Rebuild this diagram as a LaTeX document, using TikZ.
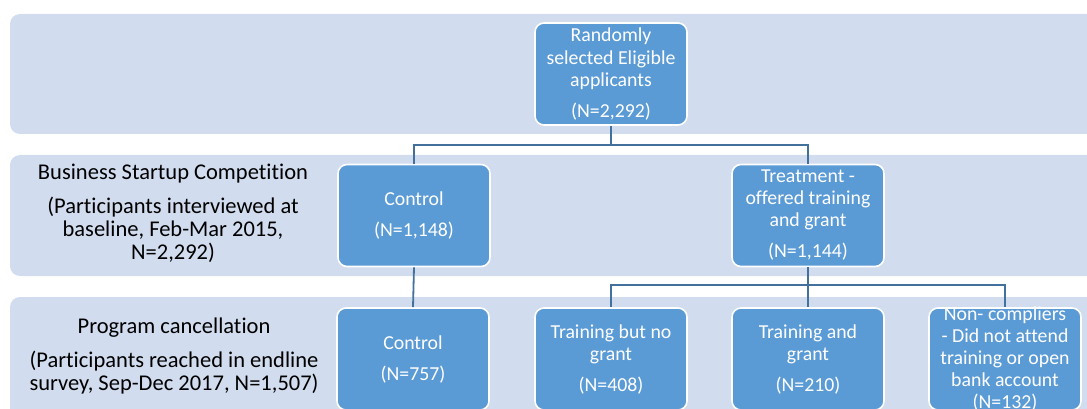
\documentclass[tikz,border=0pt]{standalone}
\usepackage{fontspec}
\setmainfont{Carlito}[Ligatures=NoCommon]
\usetikzlibrary{positioning}
\definecolor{bandfill}{RGB}{209,220,238}
\definecolor{boxfill}{RGB}{91,155,213}
\definecolor{connline}{RGB}{65,113,156}
\tikzset{
  band/.style={fill=bandfill,rounded corners=10pt},
  box/.style={draw=white,line width=1.6pt,fill=boxfill,rounded corners=9pt,
    minimum width=152pt,minimum height=102pt,inner sep=0pt,
    text=white,font=\fontsize{19.8}{22}\selectfont},
  stage/.style={align=center,text=black,font=\fontsize{22.5}{23}\selectfont},
  conn/.style={draw=connline,line width=1.8pt}
}
\newcommand{\boxtxt}[1]{\parbox[c][80pt][c]{148pt}{\centering #1}}

\begin{document}
\begin{tikzpicture}[x=1pt,y=-1pt]
    \useasboundingbox (0,0) rectangle (1087,409);
    \clip (0,0) rectangle (1087,409);
    % bands
    \fill[band] (10,14) rectangle (1110,134);
    \fill[band] (10,155) rectangle (1110,276);
    \fill[band] (10,297) rectangle (1110,430);
    % stage labels
    \node[stage] (lbl2) at (173,213) {Business Startup Competition\\[11pt]
      (Participants interviewed at\\ baseline, Feb-Mar 2015,\\ N=2,292)};
    \node[stage] (lbl3) at (174,355.5) {Program cancellation\\[11pt]
      (Participants reached in endline\\ survey, Sep-Dec 2017, N=1,507)};
    % boxes
    \node[box] (elig) at (611,74) {\boxtxt{Randomly\\ selected Eligible\\ applicants\\[9pt] (N=2,292)}};
    \node[box] (ctrl) at (414,215.5) {\boxtxt{Control\\[9pt] (N=1,148)}};
    \node[box] (treat) at (808,215.5) {\boxtxt{Treatment -\\ offered training\\ and grant\\[9pt] (N=1,144)}};
    \node[box] (ctrlend) at (413,359) {\boxtxt{Control\\[9pt] (N=757)}};
    \node[box] (trnogr) at (611,359) {\boxtxt{Training but no\\ grant\\[9pt] (N=408)}};
    \node[box] (trgr) at (808,359) {\boxtxt{Training and\\ grant\\[9pt] (N=210)}};
    \node[box] (noncomp) at (1005,359) {\boxtxt{Non- compliers\\ - Did not attend\\ training or open\\ bank account\\ (N=132)}};
    % connectors
    \coordinate (split1) at (611,145);
    \coordinate (split2) at (808,285);
    \draw[conn] (elig.south) -- (split1);
    \draw[conn] (split1) -| (ctrl.north);
    \draw[conn] (split1) -| (treat.north);
    \draw[conn] (ctrl.south) -- (ctrlend.north);
    \draw[conn] (treat.south) -- (split2);
    \draw[conn] (split2) -| (trnogr.north);
    \draw[conn] (split2) -- (trgr.north);
    \draw[conn] (split2) -| (noncomp.north);
\end{tikzpicture}
\end{document}
